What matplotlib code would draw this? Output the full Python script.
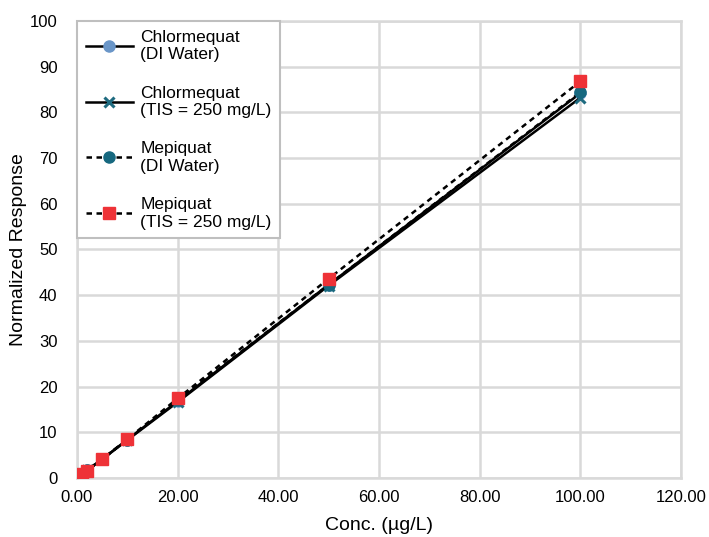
import matplotlib
matplotlib.use("Agg")
import matplotlib.pyplot as plt

plt.rcParams['font.family'] = ['Liberation Sans', 'DejaVu Sans']

conc = [1, 2, 5, 10, 20, 50, 100]
chlor_di = [0.9, 1.7, 4.1, 8.4, 16.8, 42.3, 84.2]
chlor_tis = [0.9, 1.7, 4.1, 8.3, 16.6, 42.1, 83.2]
mepi_di = [0.9, 1.7, 4.1, 8.4, 17.0, 42.3, 84.4]
mepi_tis = [0.9, 1.6, 4.1, 8.5, 17.4, 43.6, 86.8]

x_ticks = [0, 20, 40, 60, 80, 100, 120]
y_ticks = list(range(0, 101, 10))

grid_c = '#D9D9D9'

fig = plt.figure(figsize=(7.09, 5.37), dpi=100)
ax = fig.add_axes([0.1086, 0.1099, 0.8519, 0.8510])

ax.plot(conc, chlor_di, '-', color='black', lw=1.8, marker='o', ms=8,
        mfc='#6A96C8', mec='#6A96C8', label='Chlormequat\n(DI Water)', zorder=3)
ax.plot(conc, chlor_tis, '-', color='black', lw=1.8, marker='x', ms=7, mew=2.2,
        mec='#1F6B80', label='Chlormequat\n(TIS = 250 mg/L)', zorder=4)
ax.plot(conc, mepi_di, '--', color='black', lw=1.8, dashes=(2.2, 1.8), marker='o', ms=8,
        mfc='#16687F', mec='#16687F', label='Mepiquat\n(DI Water)', zorder=5)
ax.plot(conc, mepi_tis, '--', color='black', lw=1.8, dashes=(2.2, 1.8), marker='s', ms=8,
        mfc='#EE3237', mec='#EE3237', label='Mepiquat\n(TIS = 250 mg/L)', zorder=6)

ax.set_xlim(0, 120)
ax.set_ylim(0, 100)
ax.set_xticks(x_ticks)
ax.set_xticklabels([f'{v:.2f}' for v in x_ticks])
ax.set_yticks(y_ticks)
ax.tick_params(length=0, labelsize=12)
ax.tick_params(axis='y', pad=14)
ax.tick_params(axis='x', pad=9)
ax.grid(True, color=grid_c, lw=1.8, zorder=0)
ax.set_axisbelow(True)
for s in ax.spines.values():
    s.set_color(grid_c)
    s.set_linewidth(1.8)

ax.set_xlabel('Conc. (µg/L)', fontsize=14, labelpad=8)
ax.set_ylabel('Normalized Response', fontsize=14, labelpad=2)

leg = ax.legend(loc='upper left', bbox_to_anchor=(0, 1), borderaxespad=0,
                fontsize=12.5, handlelength=2.7, labelspacing=1.35,
                fancybox=False, framealpha=1, edgecolor='#BFBFBF',
                borderpad=0.5, handletextpad=0.45)
leg.get_frame().set_linewidth(1.5)

fig.savefig('out.png', dpi=100)
